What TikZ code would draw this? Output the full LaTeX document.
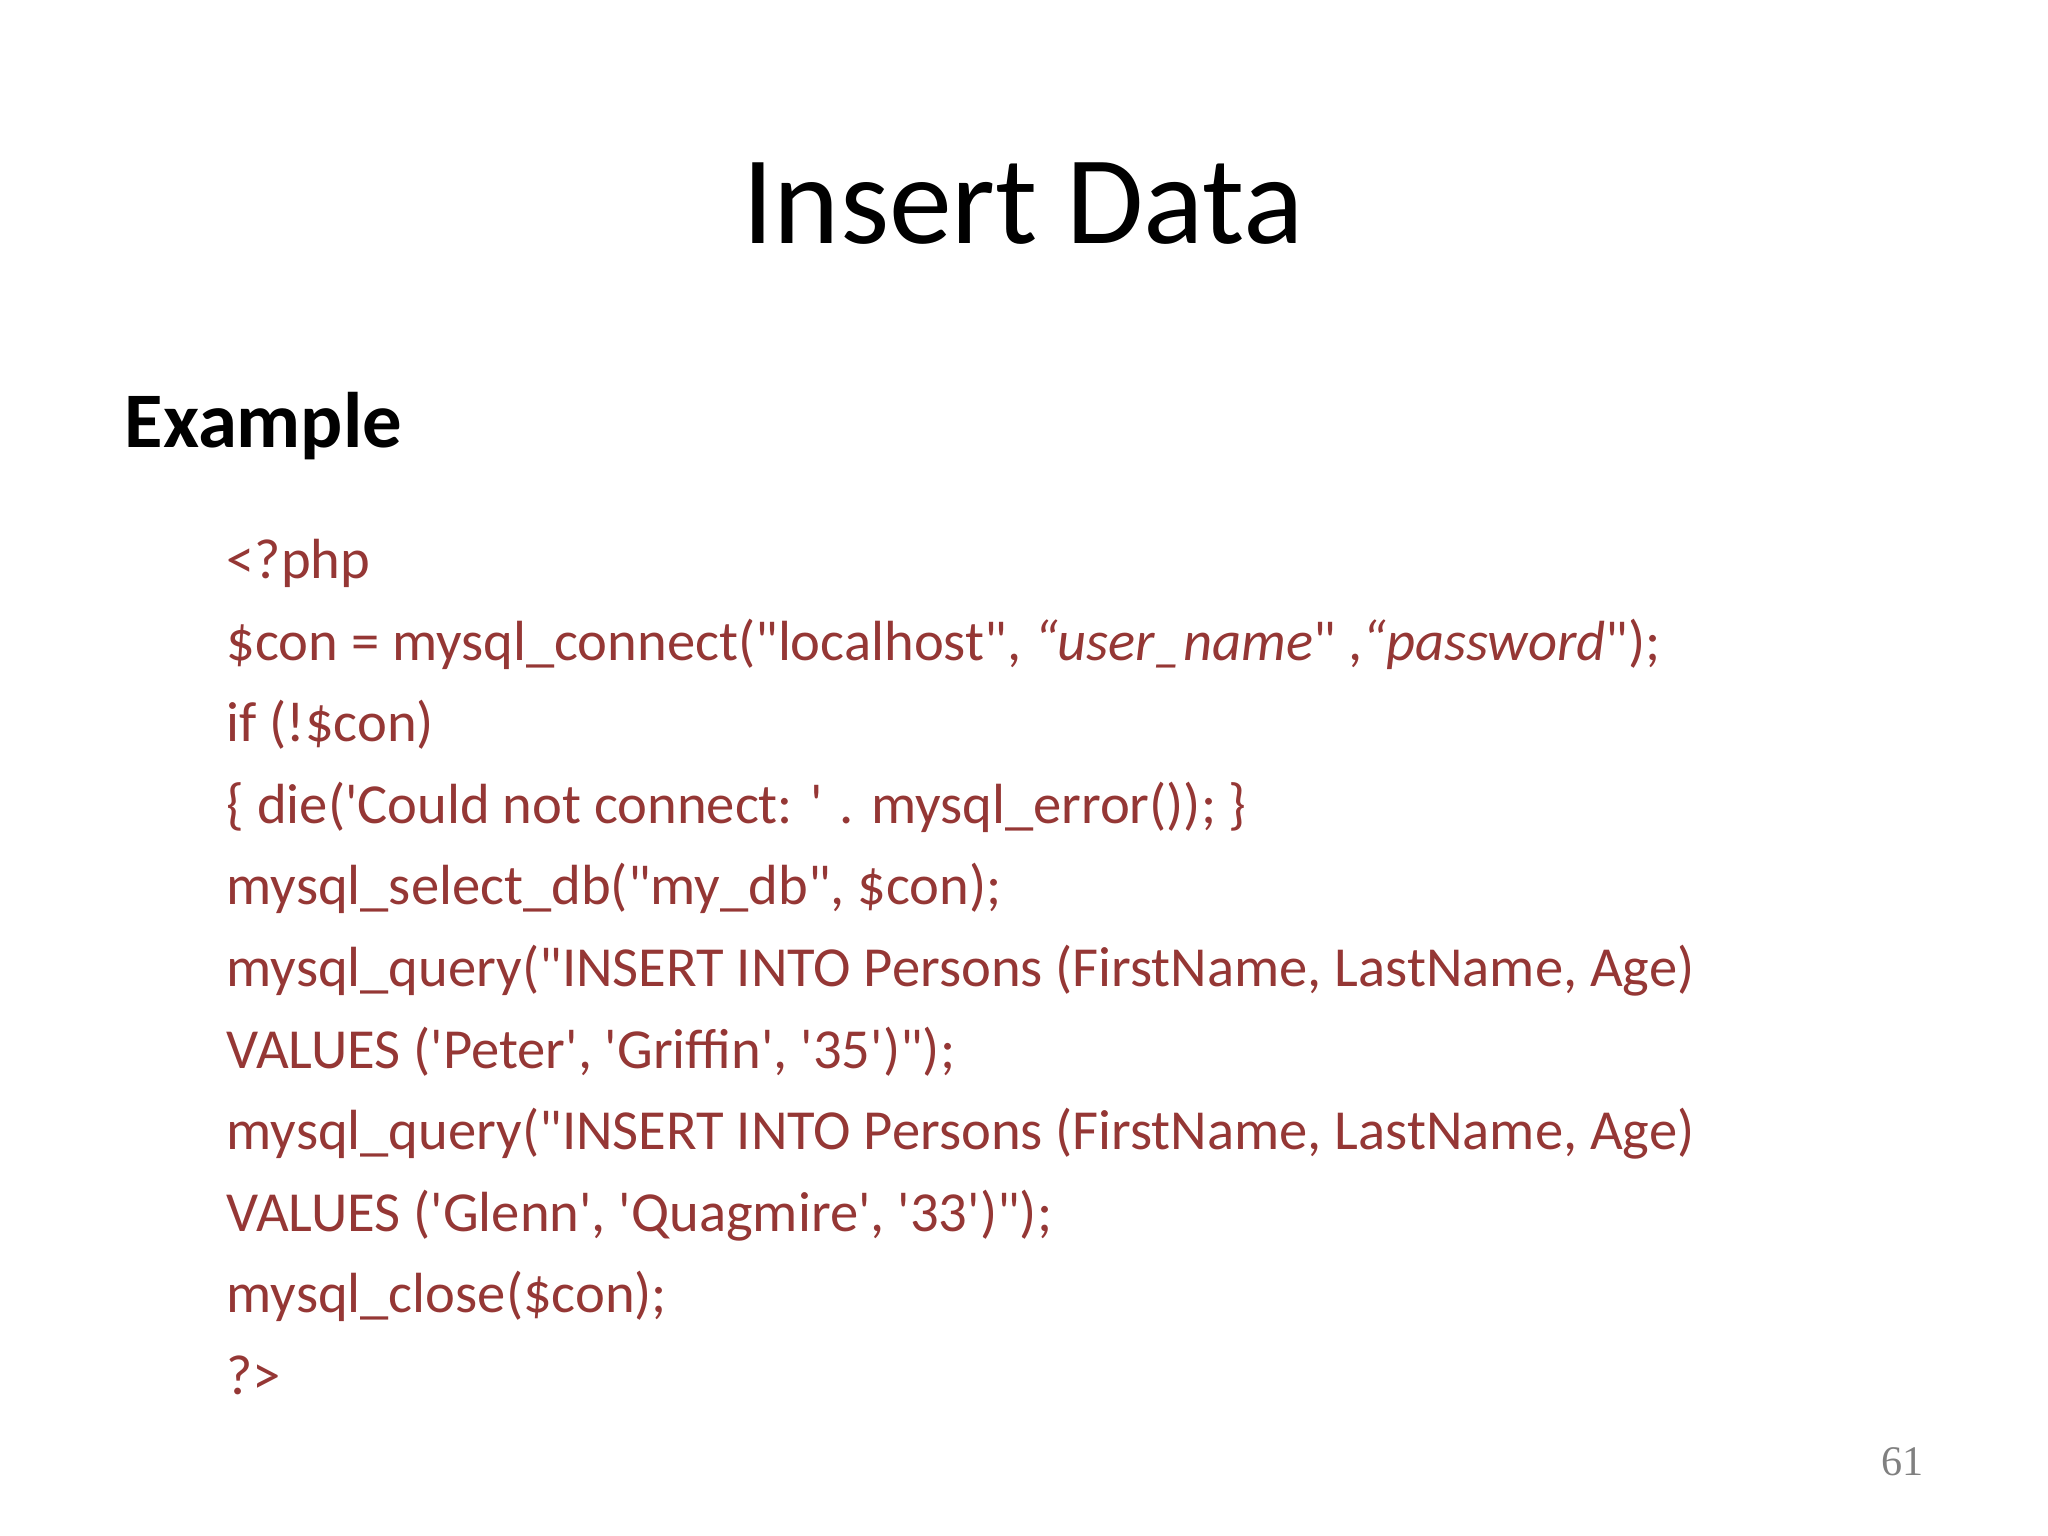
\documentclass[tikz,border=0pt]{standalone}
\usepackage{fontspec}
\setmainfont{Carlito}
\newfontfamily\codefont{Carlito}
\newfontfamily\numfont{Liberation Serif}
\definecolor{codered}{HTML}{953735}
\begin{document}
\begin{tikzpicture}
\useasboundingbox (0,0) rectangle (20.48,15.36);
\tikzset{codeline/.style={anchor=base west,inner sep=0pt,text=codered,font=\codefont\fontsize{16.1}{19}\selectfont}}
\node[anchor=base,inner sep=0pt,font=\fontsize{35.8}{42}\selectfont] (title) at (10.23,12.92) {Insert Data};
\node[anchor=base west,inner sep=0pt,font=\bfseries\fontsize{22.4}{27}\selectfont] (ex) at (1.24,10.88) {Example};
\node[codeline] (l1) at (2.26,9.574) {<?php};
\node[codeline] (l2) at (2.26,8.758) {\$con = mysql\_connect("localhost", \textit{“user\_name}" ,\textit{“password}");};
\node[codeline] (l3) at (2.26,7.942) {if (!\$con)};
\node[codeline] (l4) at (2.26,7.126) {\{ die('Could not connect: ' . mysql\_error()); \}};
\node[codeline] (l5) at (2.26,6.310) {mysql\_select\_db("my\_db", \$con);};
\node[codeline] (l6) at (2.26,5.494) {mysql\_query("INSERT INTO Persons (FirstName, LastName, Age)};
\node[codeline] (l7) at (2.26,4.678) {VALUES ('Peter', 'Griffin', '35')");};
\node[codeline] (l8) at (2.26,3.862) {mysql\_query("INSERT INTO Persons (FirstName, LastName, Age)};
\node[codeline] (l9) at (2.26,3.046) {VALUES ('Glenn', 'Quagmire', '33')");};
\node[codeline] (l10) at (2.26,2.230) {mysql\_close(\$con);};
\node[codeline] (l11) at (2.26,1.414) {?>};
\node[anchor=base east,inner sep=0pt,text=gray,font=\numfont\fontsize{12}{14}\selectfont] (pg) at (19.24,0.6) {61};
\end{tikzpicture}
\end{document}
